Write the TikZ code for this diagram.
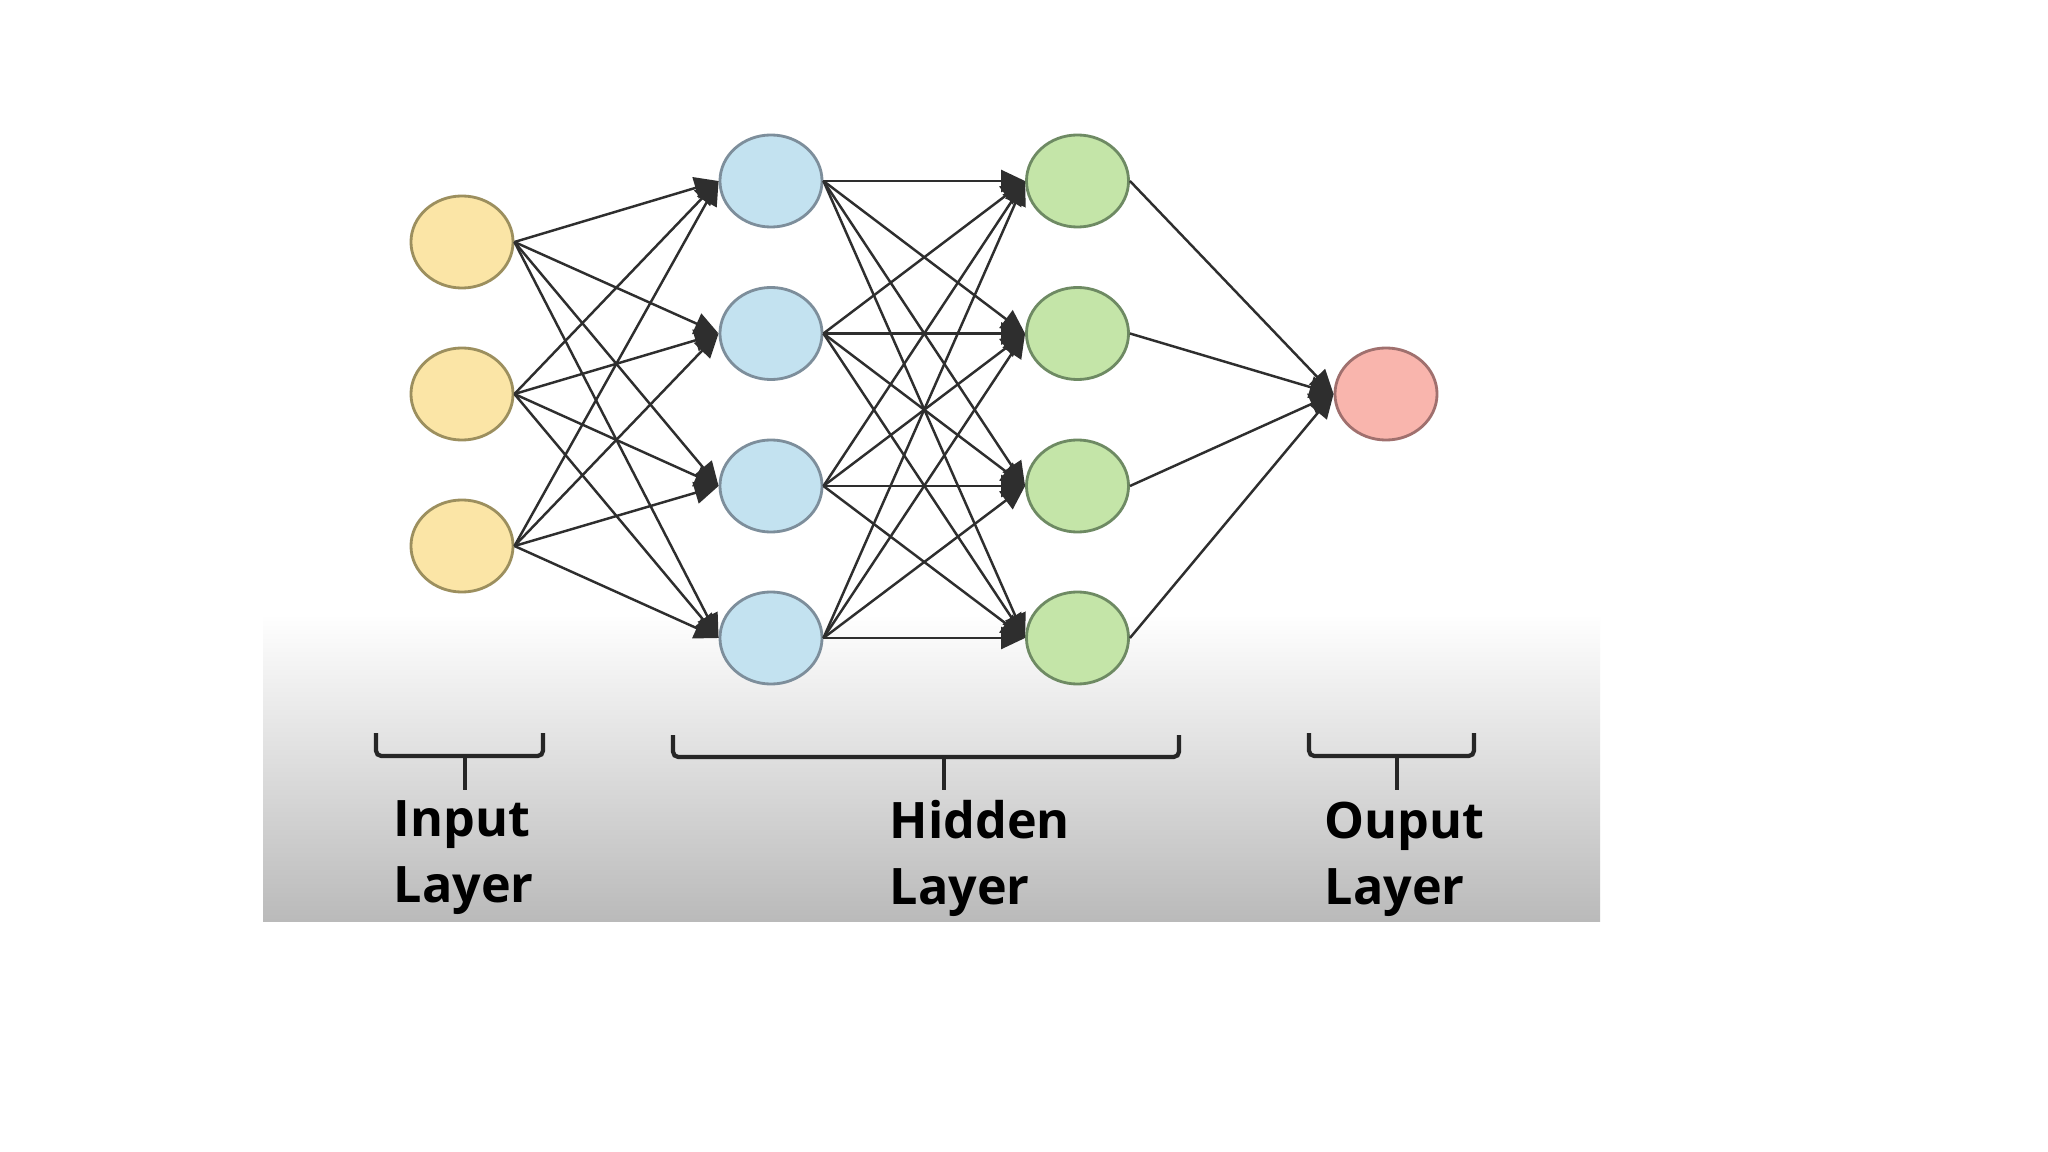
\documentclass[tikz,border=0pt]{standalone}
\usepackage{fontspec}
\setmainfont{Open Sans}
\usetikzlibrary{arrows.meta,shapes.geometric}
\definecolor{inFill}{HTML}{FBE5A6}
\definecolor{inLine}{HTML}{9C8F5E}
\definecolor{hAFill}{HTML}{C3E2F0}
\definecolor{hALine}{HTML}{7D8E9B}
\definecolor{hBFill}{HTML}{C4E5A8}
\definecolor{hBLine}{HTML}{6E8A63}
\definecolor{outFill}{HTML}{F9B5AD}
\definecolor{outLine}{HTML}{A0706E}
\definecolor{edgeCol}{HTML}{2E2E2E}
\definecolor{panelBot}{HTML}{BABABA}
\tikzset{
  neuron/.style={ellipse, draw, line width=0.8pt, minimum width=1.02cm, minimum height=0.92cm, inner sep=0pt},
  inneuron/.style={neuron, fill=inFill, draw=inLine},
  haneuron/.style={neuron, fill=hAFill, draw=hALine},
  hbneuron/.style={neuron, fill=hBFill, draw=hBLine},
  outneuron/.style={neuron, fill=outFill, draw=outLine},
  wire/.style={draw=edgeCol, line width=0.7pt, -{Triangle[length=0.24cm,width=0.22cm]}},
  bracket/.style={draw=black!85, line width=1.2pt, rounded corners=1.5pt},
  lbl/.style={anchor=base west, inner sep=0pt, font=\bfseries\fontsize{14.3}{18.8}\selectfont}
}
\begin{document}
\begin{tikzpicture}[x=0.01cm, y=-0.01cm]
\useasboundingbox (0,0) rectangle (2048,1152);
\fill[white] (0,0) rectangle (2048,1152);
\shade[top color=white, bottom color=panelBot] (263,614) rectangle (1600,921);

% nodes
\node[inneuron] (i1) at (462,242) {};
\node[inneuron] (i2) at (462,394) {};
\node[inneuron] (i3) at (462,546) {};
\node[haneuron] (a1) at (771,181) {};
\node[haneuron] (a2) at (771,333.5) {};
\node[haneuron] (a3) at (771,486) {};
\node[haneuron] (a4) at (771,638) {};
\node[hbneuron] (b1) at (1077.5,181) {};
\node[hbneuron] (b2) at (1077.5,333.5) {};
\node[hbneuron] (b3) at (1077.5,486) {};
\node[hbneuron] (b4) at (1077.5,638) {};
\node[outneuron] (o) at (1386,394) {};

% connections
\foreach \s in {i1,i2,i3}{\foreach \t in {a1,a2,a3,a4}{\draw[wire] (\s.east) -- (\t.west);}}
\foreach \s in {a1,a2,a3,a4}{\foreach \t in {b1,b2,b3,b4}{\draw[wire] (\s.east) -- (\t.west);}}
\foreach \s in {b1,b2,b3,b4}{\draw[wire] (\s.east) -- (o.west);}

% brackets
\coordinate (bi) at (465,756);
\coordinate (bih) at (465,790);
\draw[bracket] (376,733) |- (bi) -| (543,733);
\draw[bracket] (bi) -- (bih);
\coordinate (bh) at (944,757);
\coordinate (bhh) at (944,790);
\draw[bracket] (673,735) |- (bh) -| (1179,735);
\draw[bracket] (bh) -- (bhh);
\coordinate (bo) at (1397,756);
\coordinate (boh) at (1397,790);
\draw[bracket] (1309,733) |- (bo) -| (1474,733);
\draw[bracket] (bo) -- (boh);

% labels
\node[lbl] (t1) at (393,836) {Input};
\node[lbl] (t2) at (393,902) {Layer};
\node[lbl] (t3) at (889,838) {Hidden};
\node[lbl] (t4) at (889,904) {Layer};
\node[lbl] (t5) at (1324,838) {Ouput};
\node[lbl] (t6) at (1324,904) {Layer};
\end{tikzpicture}
\end{document}
